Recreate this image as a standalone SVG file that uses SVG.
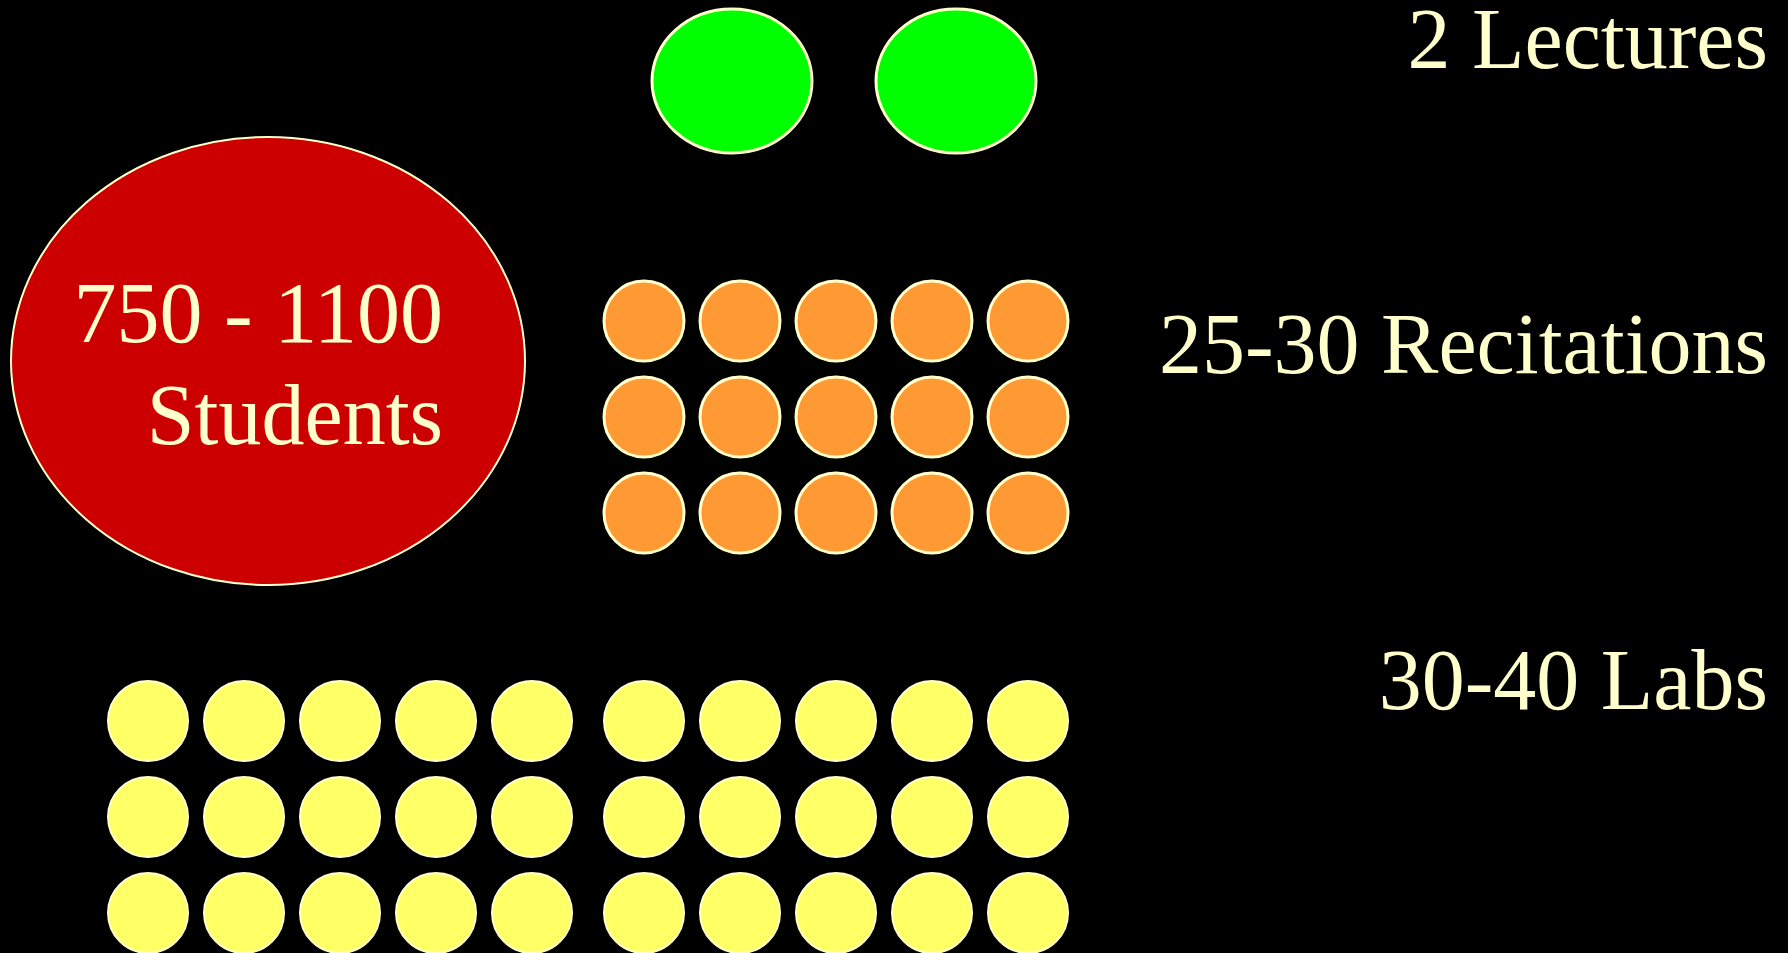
<svg xmlns="http://www.w3.org/2000/svg" width="1788" height="953" viewBox="0 0 1788 953">
<style>
.lbl{font-family:"Liberation Serif","Times New Roman",serif;font-size:86px;fill:#FFFFCC}
.g{fill:#00FF00;stroke:#FFFFCC;stroke-width:3}
.o{fill:#FF9933;stroke:#FFFFCC;stroke-width:3}
.y{fill:#FFFF66;stroke:#FFFFCC;stroke-width:2}
.r{fill:#CC0000;stroke:#FFFFCC;stroke-width:2}
</style>
<defs>
<circle id="oc" r="40" class="o"/>
<circle id="yc" r="40" class="y"/>
</defs>
<rect width="1788" height="953" fill="#000"/>
<g id="students">
<ellipse cx="268" cy="361" rx="257" ry="224" class="r"/>
<text class="lbl" text-anchor="end" x="443" y="342">750 - 1100</text>
<text class="lbl" text-anchor="end" x="443" y="444">Students</text>
</g>
<g id="lectures">
<ellipse cx="732" cy="81" rx="80" ry="72" class="g"/>
<ellipse cx="956" cy="81" rx="80" ry="72" class="g"/>
</g>
<g id="recitations">
<use href="#oc" x="644" y="321"/><use href="#oc" x="740" y="321"/><use href="#oc" x="836" y="321"/><use href="#oc" x="932" y="321"/><use href="#oc" x="1028" y="321"/>
<use href="#oc" x="644" y="417"/><use href="#oc" x="740" y="417"/><use href="#oc" x="836" y="417"/><use href="#oc" x="932" y="417"/><use href="#oc" x="1028" y="417"/>
<use href="#oc" x="644" y="513"/><use href="#oc" x="740" y="513"/><use href="#oc" x="836" y="513"/><use href="#oc" x="932" y="513"/><use href="#oc" x="1028" y="513"/>
</g>
<g id="labs">
<use href="#yc" x="148" y="721"/><use href="#yc" x="244" y="721"/><use href="#yc" x="340" y="721"/><use href="#yc" x="436" y="721"/><use href="#yc" x="532" y="721"/>
<use href="#yc" x="644" y="721"/><use href="#yc" x="740" y="721"/><use href="#yc" x="836" y="721"/><use href="#yc" x="932" y="721"/><use href="#yc" x="1028" y="721"/>
<use href="#yc" x="148" y="817"/><use href="#yc" x="244" y="817"/><use href="#yc" x="340" y="817"/><use href="#yc" x="436" y="817"/><use href="#yc" x="532" y="817"/>
<use href="#yc" x="644" y="817"/><use href="#yc" x="740" y="817"/><use href="#yc" x="836" y="817"/><use href="#yc" x="932" y="817"/><use href="#yc" x="1028" y="817"/>
<use href="#yc" x="148" y="913"/><use href="#yc" x="244" y="913"/><use href="#yc" x="340" y="913"/><use href="#yc" x="436" y="913"/><use href="#yc" x="532" y="913"/>
<use href="#yc" x="644" y="913"/><use href="#yc" x="740" y="913"/><use href="#yc" x="836" y="913"/><use href="#yc" x="932" y="913"/><use href="#yc" x="1028" y="913"/>
</g>
<g id="labels">
<text class="lbl" text-anchor="end" x="1768" y="68">2 Lectures</text>
<text class="lbl" text-anchor="end" x="1768" y="373">25-30 Recitations</text>
<text class="lbl" text-anchor="end" x="1768" y="709">30-40 Labs</text>
</g>
<g id="connectors"/>
</svg>
